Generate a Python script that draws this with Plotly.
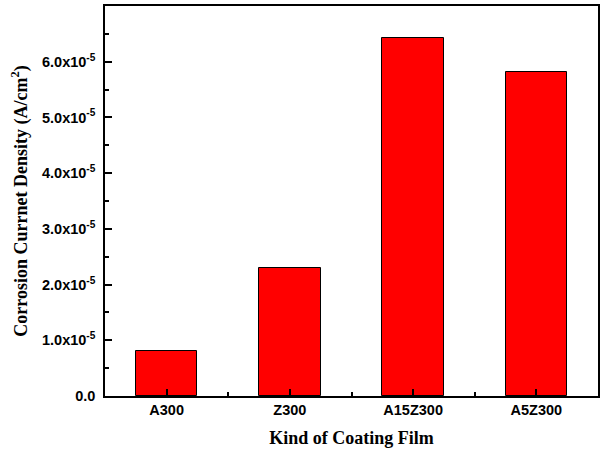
import plotly.graph_objects as go

categories = ["A300", "Z300", "A15Z300", "A5Z300"]
current_density = [0.81e-5, 2.29e-5, 6.42e-5, 5.81e-5]
y_tick_values = [0, 1e-5, 2e-5, 3e-5, 4e-5, 5e-5, 6e-5]
y_tick_labels = ["0.0", "1.0x10<sup>-5</sup>", "2.0x10<sup>-5</sup>", "3.0x10<sup>-5</sup>",
                 "4.0x10<sup>-5</sup>", "5.0x10<sup>-5</sup>", "6.0x10<sup>-5</sup>"]

x_pos = list(range(len(categories)))
x_minor = [i + 0.5 for i in x_pos[:-1]]

fig = go.Figure()
fig.add_trace(go.Bar(
    x=x_pos, y=current_density, width=0.5,
    marker=dict(color="#ff0000", line=dict(color="black", width=1)),
))

axis_font = dict(family="Liberation Sans, Arial", size=14.5, color="black", weight="bold")
title_font = dict(family="Liberation Serif, Times New Roman", size=18, color="black", weight="bold")

fig.update_layout(
    width=604, height=458,
    margin=dict(l=105, r=6, t=4, b=62),
    paper_bgcolor="white", plot_bgcolor="white",
    showlegend=False,
    bargap=0,
)
fig.update_xaxes(
    range=[-0.5, len(categories) - 0.5],
    tickvals=x_pos, ticktext=categories,
    tickfont=axis_font,
    ticks="inside", ticklen=7, tickwidth=1.5, tickcolor="black",
    minor=dict(tickvals=x_minor, ticks="inside", ticklen=4, tickwidth=1.5, tickcolor="black"),
    showline=True, linecolor="black", linewidth=1.5, mirror=True,
    showgrid=False, zeroline=False,
    title=dict(text="Kind of Coating Film", font=title_font, standoff=14),
)
fig.update_yaxes(
    range=[0, 7e-5],
    tickvals=y_tick_values, ticktext=y_tick_labels,
    tickfont=axis_font, ticklabelstandoff=5,
    ticks="inside", ticklen=7, tickwidth=1.5, tickcolor="black",
    minor=dict(dtick=0.5e-5, tick0=0, ticks="inside", ticklen=4, tickwidth=1.5, tickcolor="black", showgrid=False),
    showline=True, linecolor="black", linewidth=1.5, mirror=True,
    showgrid=False, zeroline=False,
    title=dict(text="Corrosion Currnet Density (A/cm<sup>2</sup>)", font=title_font, standoff=10),
)

fig.write_html("out.html", config={"displayModeBar": False},
               post_script="document.body.style.margin='0';document.body.style.padding='0';")
